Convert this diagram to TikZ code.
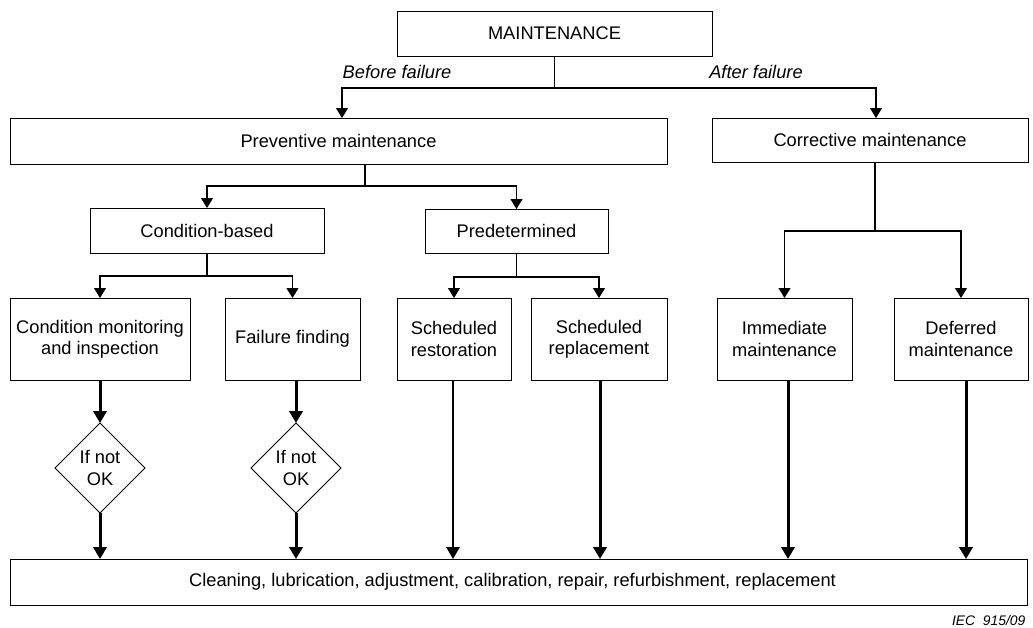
\documentclass[tikz,border=0pt]{standalone}
\usepackage{fontspec}
\setmainfont{Liberation Sans}
\usetikzlibrary{arrows.meta,shapes.geometric}
\begin{document}
\begin{tikzpicture}[x=0.75pt,y=-0.75pt,
  every node/.style={font=\fontsize{13.7}{15.8}\selectfont},
  box/.style={draw,line width=0.75pt,rectangle,inner sep=0pt,outer sep=0pt,align=center},
  dia/.style={draw,line width=0.75pt,diamond,aspect=1,inner sep=0pt,outer sep=0pt,minimum size=67.5pt,align=center},
  conn/.style={line width=0.8pt,-{Triangle[width=9pt,length=7.5pt]}},
  heavy/.style={line width=2.25pt,-{Triangle[width=10pt,length=9pt]}},
  medium/.style={line width=1.5pt,-{Triangle[width=10pt,length=9pt]}},
  lbl/.style={font=\fontsize{13.7}{15.8}\selectfont\itshape},
  note/.style={font=\fontsize{10.4}{12}\selectfont\itshape,anchor=east}]
\useasboundingbox (0,0) rectangle (1033,628);
\fill[white] (0,0) rectangle (1033,628);

\node[box,minimum width=236.25pt,minimum height=33.75pt] (maint) at (554.5,33.5) {MAINTENANCE};
\node[box,minimum width=492.75pt,minimum height=34.5pt] (prev) at (338.5,141) {Preventive maintenance};
\node[box,minimum width=237pt,minimum height=33pt] (corr) at (870,140) {Corrective maintenance};
\node[box,minimum width=175.5pt,minimum height=33.75pt] (cb) at (207,230.5) {Condition-based};
\node[box,minimum width=137.25pt,minimum height=33pt] (pd) at (516.5,231) {Predetermined};

\node[box,minimum width=135pt,minimum height=61.5pt] (cmi) at (100,339) {Condition monitoring\\and inspection};
\node[box,minimum width=101.25pt,minimum height=61.5pt] (ff) at (292.5,339) {\raisebox{3pt}{Failure finding}};
\node[box,minimum width=85.5pt,minimum height=61.5pt] (sr) at (454,339) {Scheduled\\restoration};
\node[box,minimum width=102pt,minimum height=61.5pt] (srp) at (599,339) {Scheduled\\replacement};
\node[box,minimum width=101.25pt,minimum height=61.5pt] (im) at (784.5,339) {Immediate\\maintenance};
\node[box,minimum width=100.5pt,minimum height=61.5pt] (df) at (961,339) {Deferred\\maintenance};

\node[dia] (d1) at (100,468) {If not\\OK};
\node[dia] (d2) at (296,468) {If not\\OK};

\node[box,minimum width=762.75pt,minimum height=34.5pt] (bot) at (518.5,582) {Cleaning, lubrication, adjustment, calibration, repair, refurbishment, replacement\hspace{9pt}};

\node[lbl] (bflbl) at (397,72) {Before failure};
\node[lbl] (aflbl) at (756,72) {After failure};
\node[note] (iec) at (1030,621) {IEC\ \ 915/09};

% top level
\coordinate (bf) at (342,88);
\coordinate (af) at (876,88);
\draw[conn] (maint.south) |- (bf) -- (bf |- prev.north);
\draw[conn] (maint.south) |- (af) -- (af |- corr.north);

% preventive
\coordinate (pbus) at (365,186);
\draw[conn] (prev.south -| pbus) -- (pbus) -| (cb.north);
\draw[conn] (pbus) -| (pd.north);

% condition-based
\draw[conn] (cb.south) -- ++(0,23) -| (cmi.north);
\draw[conn] (cb.south) -- ++(0,23) -| (ff.north);

% predetermined
\draw[conn] (pd.south) -- ++(0,24) -| (sr.north);
\draw[conn] (pd.south) -- ++(0,24) -| (srp.north);

% corrective
\coordinate (cj) at (875,231);
\draw[conn] (corr.south -| cj) -- (cj) -| (im.north);
\draw[conn] (cj) -| (df.north);

% heavy arrows to bottom
\draw[heavy] (cmi.south) -- (d1.north);
\draw[heavy] (d1.south) -- (bot.north -| d1.south);
\draw[heavy] (ff.south -| d2.north) -- (d2.north);
\draw[heavy] (d2.south) -- (bot.north -| d2.south);
\coordinate (xsr) at (453,0);
\coordinate (xsrp) at (600,0);
\coordinate (xim) at (788,0);
\coordinate (xdf) at (966,0);
\draw[medium] (sr.south -| xsr) -- (bot.north -| xsr);
\draw[heavy] (srp.south -| xsrp) -- (bot.north -| xsrp);
\draw[heavy] (im.south -| xim) -- (bot.north -| xim);
\draw[heavy] (df.south -| xdf) -- (bot.north -| xdf);
\end{tikzpicture}
\end{document}
